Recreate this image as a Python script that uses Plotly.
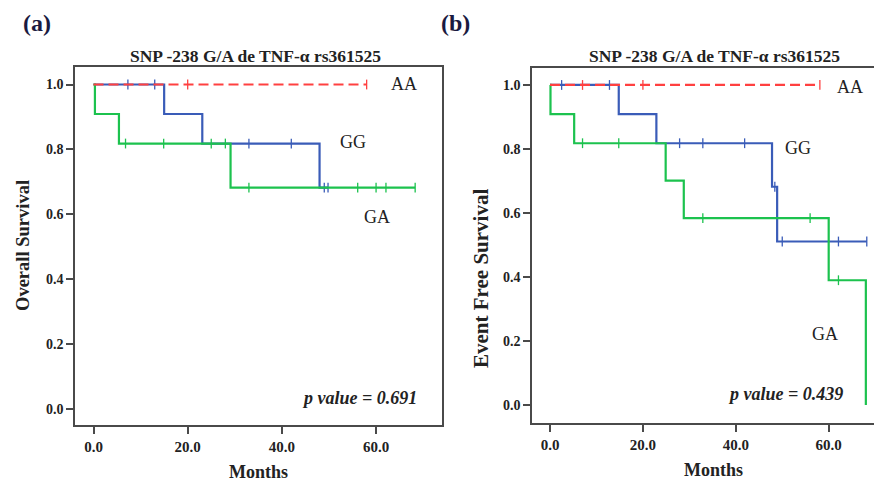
import plotly.graph_objects as go

W, H = 882, 483

# ---------------- data (months, survival) ----------------
# Panel (a) Overall survival
a_AA_t = [0.0, 58.0]
a_AA_s = [1.0, 1.0]
a_AA_cens_t = [20.0, 58.0]
a_AA_cens_s = [1.0, 1.0]

a_GG_t = [0.0, 15.0, 23.1, 48.0, 49.8]
a_GG_s = [1.0, 0.909, 0.818, 0.682, 0.682]
a_GG_cens_t = [7.3, 13.0, 33.0, 42.0, 49.0, 49.8]
a_GG_cens_s = [1.0, 1.0, 0.818, 0.818, 0.682, 0.682]

a_GA_t = [0.0, 0.3, 5.4, 29.1, 68.3]
a_GA_s = [1.0, 0.909, 0.818, 0.682, 0.682]
a_GA_cens_t = [6.8, 14.9, 25.0, 28.0, 33.0, 56.1, 60.0, 62.1, 68.3]
a_GA_cens_s = [0.818, 0.818, 0.818, 0.818, 0.682, 0.682, 0.682, 0.682, 0.682]

# Panel (b) Event free survival
b_AA_t = [0.0, 58.1]
b_AA_s = [1.0, 1.0]
b_AA_cens_t = [7.0, 20.0, 58.1]
b_AA_cens_s = [1.0, 1.0, 1.0]

b_GG_t = [0.0, 14.8, 22.9, 47.8, 48.9, 68.2]
b_GG_s = [1.0, 0.909, 0.818, 0.682, 0.511, 0.511]
b_GG_cens_t = [2.5, 12.8, 27.9, 32.9, 41.9, 48.4, 50.0, 62.1, 68.2]
b_GG_cens_s = [1.0, 1.0, 0.818, 0.818, 0.818, 0.682, 0.511, 0.511, 0.511]

b_GA_t = [0.0, 0.1, 5.2, 24.9, 28.8, 60.0, 68.0, 68.0]
b_GA_s = [1.0, 0.909, 0.818, 0.701, 0.584, 0.39, 0.0, 0.0]
b_GA_cens_t = [7.0, 14.8, 32.9, 56.0, 62.1]
b_GA_cens_s = [0.818, 0.818, 0.584, 0.584, 0.39]

x_ticks = [0, 20, 40, 60]
y_ticks = [0.0, 0.2, 0.4, 0.6, 0.8, 1.0]

title_text = "SNP -238 G/A de TNF-α rs361525"
p_a = "p value = 0.691"
p_b = "p value = 0.439"

# ---------------- styling ----------------
RED = "#ff4040"
BLUE = "#3a5cb8"
GREEN = "#1cc24e"
AXC = "#4a4a4a"
SERIF = "Liberation Serif"
OFF = 8  # page body margin


def px(x):
    return (x - OFF) / W


def py(y):
    return 1 - (y - OFF) / H


fig = go.Figure()


def add_curve(t, s, cens_t, cens_s, color, xa, ya, dash=None):
    fig.add_trace(go.Scatter(
        x=t, y=s, mode="lines", line_shape="hv",
        line=dict(color=color, width=2.2, dash=dash),
        xaxis=xa, yaxis=ya, showlegend=False, hoverinfo="skip"))
    fig.add_trace(go.Scatter(
        x=cens_t, y=cens_s, mode="markers",
        marker=dict(symbol="line-ns", size=7, color=color,
                    line=dict(color=color, width=1.3)),
        xaxis=xa, yaxis=ya, showlegend=False, hoverinfo="skip"))


# draw order: blue, green, red on top
add_curve(a_GG_t, a_GG_s, a_GG_cens_t, a_GG_cens_s, BLUE, "x", "y")
add_curve(a_GA_t, a_GA_s, a_GA_cens_t, a_GA_cens_s, GREEN, "x", "y")
add_curve(a_AA_t, a_AA_s, a_AA_cens_t, a_AA_cens_s, RED, "x", "y", dash="10px,5px")

add_curve(b_GG_t, b_GG_s, b_GG_cens_t, b_GG_cens_s, BLUE, "x2", "y2")
add_curve(b_GA_t, b_GA_s, b_GA_cens_t, b_GA_cens_s, GREEN, "x2", "y2")
add_curve(b_AA_t, b_AA_s, b_AA_cens_t, b_AA_cens_s, RED, "x2", "y2", dash="10px,5px")

tickfont = dict(family=SERIF, size=14, color="#222", weight="bold")
xtickfont = dict(family=SERIF, size=15, color="#222", weight="bold")

common_x = dict(tickvals=x_ticks, tickformat=".1f", ticks="outside", ticklen=7,
                tickwidth=1.5, tickcolor=AXC, showline=True, linecolor=AXC,
                linewidth=1.5, mirror=True, showgrid=False, zeroline=False,
                tickfont=xtickfont)
common_y = dict(tickvals=y_ticks, tickformat=".1f", ticks="outside", ticklen=7,
                tickwidth=1.5, tickcolor=AXC, showline=True, linecolor=AXC,
                linewidth=1.5, showgrid=False, zeroline=False, tickfont=tickfont)

fig.update_layout(
    width=W, height=H,
    margin=dict(l=0, r=0, t=0, b=0),
    paper_bgcolor="white", plot_bgcolor="white",
    xaxis=dict(domain=[px(75), px(442)], range=[-3.93, 74.0], anchor="y", **common_x),
    yaxis=dict(domain=[py(425), py(67)], range=[-0.050, 1.054], anchor="x", mirror=True, **common_y),
    xaxis2=dict(domain=[px(532), 1.0], range=[-3.88, 73.2], anchor="y2", **common_x),
    yaxis2=dict(domain=[py(423), py(68)], range=[-0.056, 1.053], anchor="x2", mirror=False, **common_y),
)

ann = []


def text(x, y, s, size=15, bold=False, italic=False, angle=0, color="#222", family=SERIF, xanchor="center"):
    if bold:
        s = f"<b>{s}</b>"
    if italic:
        s = f"<i>{s}</i>"
    ann.append(dict(x=px(x), y=py(y), xref="paper", yref="paper", text=s, showarrow=False,
                    font=dict(family=family, size=size, color=color), textangle=angle,
                    xanchor=xanchor, yanchor="middle"))


text(37, 23, "(a)", size=24, bold=True, color="#1a1a40")
text(455, 23, "(b)", size=24, bold=True, color="#1a1a40")
text(255, 56, title_text, size=17.5, bold=True)
text(714, 56, title_text, size=17.5, bold=True)
text(23, 246, "Overall Survival", size=18.5, bold=True, angle=-90)
text(481, 278, "Event Free Survival", size=21, bold=True, angle=-90)
text(258, 472, "Months", size=18, bold=True)
text(713, 470, "Months", size=18, bold=True)
# group labels
text(404, 84, "AA", size=18)
text(353, 142, "GG", size=18)
text(377, 217, "GA", size=18)
text(850, 87, "AA", size=18)
text(798, 148, "GG", size=18)
text(825, 334, "GA", size=18)
text(359, 398, p_a, size=18, bold=True, italic=True)
text(785, 394, p_b, size=18, bold=True, italic=True)

fig.update_layout(annotations=ann)
fig.write_html("out.html")
